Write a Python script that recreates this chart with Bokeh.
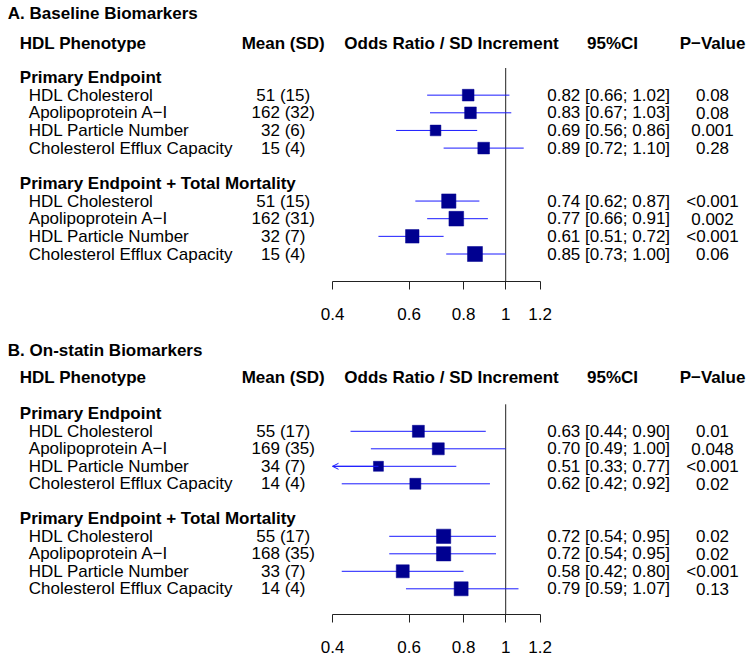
import math
from bokeh.plotting import figure
from bokeh.layouts import column
from bokeh.models import (Range1d, LogScale, LogAxis, FixedTicker, CustomJSTickFormatter,
                          ColumnDataSource, Arrow, OpenHead)
from bokeh.core.properties import value
from bokeh.embed import file_html
from bokeh.resources import INLINE

# ---------------- data ----------------
phenotypes = ["HDL Cholesterol", "Apolipoprotein A\u2212I", "HDL Particle Number",
              "Cholesterol Efflux Capacity"]
group_names = ["Primary Endpoint", "Primary Endpoint + Total Mortality"]
col_headers = ["HDL Phenotype", "Mean (SD)", "Odds Ratio / SD Increment", "95%CI", "P\u2212Value"]
axis_ticks = [0.4, 0.6, 0.8, 1, 1.2]

a_title = "A. Baseline Biomarkers"
a_pe_mean = ["51 (15)", "162 (32)", "32 (6)", "15 (4)"]
a_pe_or = [0.82, 0.83, 0.69, 0.89]
a_pe_lo = [0.66, 0.67, 0.56, 0.72]
a_pe_hi = [1.02, 1.03, 0.86, 1.10]
a_pe_p = ["0.08", "0.08", "0.001", "0.28"]
a_pe_weight = [11.7, 11.7, 10.7, 11.7]

a_tm_mean = ["51 (15)", "162 (31)", "32 (7)", "15 (4)"]
a_tm_or = [0.74, 0.77, 0.61, 0.85]
a_tm_lo = [0.62, 0.66, 0.51, 0.73]
a_tm_hi = [0.87, 0.91, 0.72, 1.00]
a_tm_p = ["<0.001", "0.002", "<0.001", "0.06"]
a_tm_weight = [14.3, 14.7, 13.5, 15.0]

b_title = "B. On-statin Biomarkers"
b_pe_mean = ["55 (17)", "169 (35)", "34 (7)", "14 (4)"]
b_pe_or = [0.63, 0.70, 0.51, 0.62]
b_pe_lo = [0.44, 0.49, 0.33, 0.42]
b_pe_hi = [0.90, 1.00, 0.77, 0.92]
b_pe_p = ["0.01", "0.048", "<0.001", "0.02"]
b_pe_weight = [12.0, 12.0, 10.0, 11.0]

b_tm_mean = ["55 (17)", "168 (35)", "33 (7)", "14 (4)"]
b_tm_or = [0.72, 0.72, 0.58, 0.79]
b_tm_lo = [0.54, 0.54, 0.42, 0.59]
b_tm_hi = [0.95, 0.95, 0.80, 1.07]
b_tm_p = ["0.02", "0.02", "<0.001", "0.13"]
b_tm_weight = [14.3, 14.3, 13.0, 14.0]

# ---------------- layout / style ----------------
FONT = "Liberation Sans"
FS = "17px"
W = 748
X_LEFT, X_RIGHT = 0.0, 748.0          # pixel span of the canvas
X_ONE, PX_PER_LOG = 505.2, 189.0      # where OR = 1 sits, pixels per log unit
OR_LO = math.exp((X_LEFT - X_ONE) / PX_PER_LOG)
OR_HI = math.exp((X_RIGHT - X_ONE) / PX_PER_LOG)

X_TITLE, X_GROUP, X_LABEL = 7.3, 19.3, 28.3
X_MEAN, X_OR_HEAD, X_CI, X_CI_HEAD, X_P = 282.7, 451.0, 546.7, 612.0, 712.0

BOX_COLOR = "#000090"
LINE_COLOR = "#1a1aff"


def build_panel(title, groups, top_px, axis_px, title_y, header_y, g1_y, step,
                height, standoff):
    frame_h = axis_px - top_px
    p = figure(width=W, height=height,
               x_range=Range1d(X_LEFT, X_RIGHT), y_range=Range1d(axis_px, top_px),
               extra_x_ranges={"or": Range1d(OR_LO, OR_HI)},
               extra_x_scales={"or": LogScale()},
               x_axis_location=None, y_axis_location=None,
               toolbar_location=None, output_backend="svg",
               min_border_left=0, min_border_right=0, min_border_top=0,
               min_border_bottom=int(round(height - frame_h)),
               outline_line_color=None, background_fill_color="white",
               border_fill_color="white")
    p.xgrid.visible = False
    p.ygrid.visible = False

    def txt(xs, ys, texts, align, bold):
        src = ColumnDataSource(dict(x=xs, y=ys, t=texts))
        p.text(x="x", y="y", text="t", source=src, text_align=align,
               text_baseline="middle", text_font=value(FONT), text_font_size=FS,
               text_font_style="bold" if bold else "normal", text_color="black")

    # title and column headers
    txt([X_TITLE], [title_y], [title], "left", True)
    txt([X_GROUP], [header_y], [col_headers[0]], "left", True)
    txt([X_MEAN, X_OR_HEAD, X_CI_HEAD, X_P], [header_y] * 4, col_headers[1:], "center", True)

    gy, ry, lab, mean, ci, pv, orv, lo, hi, wt = [], [], [], [], [], [], [], [], [], []
    for gi, g in enumerate(groups):
        base = gi * (len(phenotypes) + 2)
        gy.append(g1_y + base * step)
        for i in range(len(phenotypes)):
            y = g1_y + (base + 1 + i) * step
            ry.append(y)
            lab.append(phenotypes[i])
            mean.append(g["mean"][i])
            ci.append(f"{g['or'][i]:.2f} [{g['lo'][i]:.2f}; {g['hi'][i]:.2f}]")
            pv.append(g["p"][i])
            orv.append(g["or"][i])
            lo.append(g["lo"][i])
            hi.append(g["hi"][i])
            wt.append(g["w"][i])

    txt([X_GROUP] * len(gy), gy, group_names, "left", True)
    txt([X_LABEL] * len(ry), ry, lab, "left", False)
    txt([X_MEAN] * len(ry), ry, mean, "center", False)
    txt([X_CI] * len(ry), ry, ci, "left", False)
    txt([X_P] * len(ry), ry, pv, "center", False)

    amin = min(axis_ticks)
    lo_clip = [max(v, amin) for v in lo]

    # reference line at OR = 1
    p.segment(x0=[1], y0=[g1_y - 9.5], x1=[1], y1=[axis_px], x_range_name="or",
              line_color="#222222", line_width=1)

    src = ColumnDataSource(dict(o=orv, lo=lo_clip, hi=hi, y=ry, w=wt))
    p.segment(x0="lo", y0="y", x1="hi", y1="y", source=src, x_range_name="or",
              line_color=LINE_COLOR, line_width=1)
    for o, l, y in zip(orv, lo, ry):
        if l < amin:
            p.add_layout(Arrow(end=OpenHead(size=6, line_color=LINE_COLOR, line_width=1),
                               x_start=o, y_start=y, x_end=amin, y_end=y,
                               x_range_name="or", line_color=LINE_COLOR, line_width=1))
    p.rect(x="o", y="y", width="w", height="w", source=src, x_range_name="or",
           width_units="screen", height_units="screen",
           fill_color=BOX_COLOR, line_color=BOX_COLOR, line_width=0.5)

    ax = LogAxis(x_range_name="or", ticker=FixedTicker(ticks=axis_ticks),
                 formatter=CustomJSTickFormatter(code="return tick.toString();"),
                 bounds=(amin, max(axis_ticks)))
    ax.major_tick_out = 8
    ax.major_tick_in = 0
    ax.minor_tick_out = 0
    ax.minor_tick_in = 0
    ax.major_label_standoff = standoff
    ax.axis_line_color = "#222222"
    ax.major_tick_line_color = "#222222"
    ax.major_label_text_font = FONT
    ax.major_label_text_font_size = FS
    ax.major_label_text_color = "black"
    ax.major_label_text_line_height = 0.8
    p.add_layout(ax, "below")
    return p


a_groups = [dict(mean=a_pe_mean, lo=a_pe_lo, hi=a_pe_hi, p=a_pe_p, w=a_pe_weight, **{"or": a_pe_or}),
            dict(mean=a_tm_mean, lo=a_tm_lo, hi=a_tm_hi, p=a_tm_p, w=a_tm_weight, **{"or": a_tm_or})]
b_groups = [dict(mean=b_pe_mean, lo=b_pe_lo, hi=b_pe_hi, p=b_pe_p, w=b_pe_weight, **{"or": b_pe_or}),
            dict(mean=b_tm_mean, lo=b_tm_lo, hi=b_tm_hi, p=b_tm_p, w=b_tm_weight, **{"or": b_tm_or})]

pa = build_panel(a_title, a_groups, top_px=0.0, axis_px=281.0, title_y=13.3, header_y=42.7,
                 g1_y=77.0, step=17.65, height=334, standoff=18)
pb = build_panel(b_title, b_groups, top_px=334.0, axis_px=614.0, title_y=350.0, header_y=376.7,
                 g1_y=413.3, step=17.5, height=321, standoff=18)

layout = column(pa, pb, spacing=0)
open("out.html", "w").write(file_html(layout, INLINE))
